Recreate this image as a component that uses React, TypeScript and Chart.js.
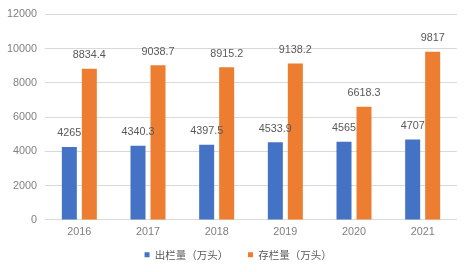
import React, { useEffect, useRef } from "react";
import { Chart, registerables } from "chart.js";

Chart.register(...registerables);

const years = ["2016", "2017", "2018", "2019", "2020", "2021"];
const outValues = [4265, 4340.3, 4397.5, 4533.9, 4565, 4707];
const stockValues = [8834.4, 9038.7, 8915.2, 9138.2, 6618.3, 9817];
const seriesNames = ["出栏量（万头）", "存栏量（万头）"];
const yTicks = { min: 0, max: 12000, step: 2000 };

const FONT = "'Liberation Sans', 'Noto Sans CJK SC', sans-serif";
const CJK_FONT = "'Noto Sans CJK SC', 'Liberation Sans', sans-serif";

const LEGEND_FONT = 10.5;
const LEGEND_PAD = 19.7;
const LEGEND_MAX_H = 33;

const dataLabelPlugin = {
  id: "dataLabels",
  afterDatasetsDraw(chart: any) {
    const ctx = chart.ctx;
    ctx.save();
    ctx.font = `10.8px ${FONT}`;
    ctx.fillStyle = "#595959";
    ctx.textAlign = "center";
    ctx.textBaseline = "middle";
    chart.data.datasets.forEach((ds: any, di: number) => {
      const meta = chart.getDatasetMeta(di);
      meta.data.forEach((bar: any, i: number) => {
        ctx.fillText(String(ds.data[i]), bar.x, bar.y - 13.5);
      });
    });
    ctx.restore();
  },
};

const legendShiftPlugin = {
  id: "legendShift",
  afterLayout(chart: any) {
    if (chart.legend) {
      chart.legend.left += 19.3;
      chart.legend.top -= 9.3;
    }
  },
};

export default function App() {
  const ref = useRef<HTMLCanvasElement>(null);
  useEffect(() => {
    if (!ref.current) return;
    const chart = new Chart(ref.current, {
      type: "bar",
      data: {
        labels: years,
        datasets: [
          {
            label: seriesNames[0],
            data: outValues,
            backgroundColor: "#4472C4",
            borderWidth: 0,
            categoryPercentage: 0.5825,
            barPercentage: 0.75,
          },
          {
            label: seriesNames[1],
            data: stockValues,
            backgroundColor: "#ED7D31",
            borderWidth: 0,
            categoryPercentage: 0.5825,
            barPercentage: 0.75,
          },
        ],
      },
      options: {
        responsive: false,
        animation: false,
        layout: { padding: { left: 0, right: 12, top: 12, bottom: 0 } },
        plugins: {
          tooltip: { enabled: false },
          legend: {
            position: "bottom",
            maxHeight: LEGEND_MAX_H,
            labels: {
              boxWidth: 5,
              boxHeight: 5,
              padding: LEGEND_PAD,
              color: "#595959",
              font: { family: CJK_FONT, size: LEGEND_FONT },
            },
          },
        },
        scales: {
          x: {
            grid: { display: false, drawTicks: false },
            border: { display: false },
            ticks: { color: "#7f7f7f", padding: 6, font: { family: FONT, size: 10.8 } },
            afterFit(scale: any) {
              scale.height = 272 - 220 - LEGEND_MAX_H;
            },
          },
          y: {
            min: yTicks.min,
            max: yTicks.max,
            grid: { color: "#d9d9d9", drawTicks: false },
            border: { display: false },
            ticks: {
              stepSize: yTicks.step,
              color: "#7f7f7f",
              padding: 8,
              font: { family: FONT, size: 10.8 },
              callback: (v: any) => String(v),
            },
            afterFit(scale: any) {
              scale.width = 45;
            },
          },
        },
      },
      plugins: [dataLabelPlugin, legendShiftPlugin],
    });
    return () => chart.destroy();
  }, []);
  return (
    <div style={{ position: "absolute", left: 0, top: 0, width: 469, height: 272, background: "#fff" }}>
      <canvas ref={ref} width={469} height={272} style={{ display: "block" }} />
    </div>
  );
}
